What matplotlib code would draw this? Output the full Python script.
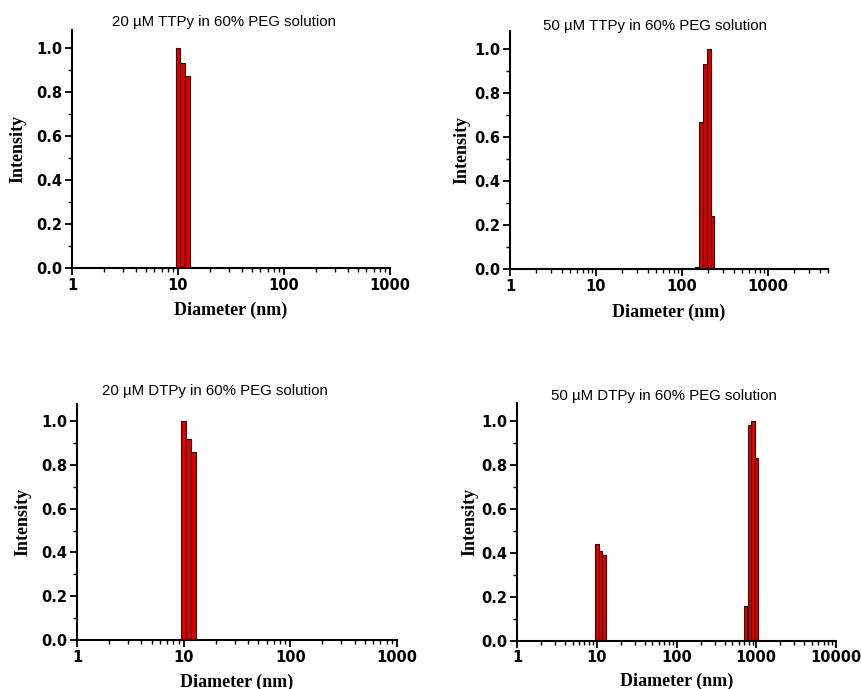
import numpy as np
import matplotlib
matplotlib.use("Agg")
import matplotlib.pyplot as plt
from matplotlib.ticker import LogLocator, FixedLocator, MultipleLocator, FuncFormatter

# ---- data (bin centre diameters in nm, normalised intensities) ----
titles = ["20 \u00b5M TTPy in 60% PEG solution",
          "50 \u00b5M TTPy in 60% PEG solution",
          "20 \u00b5M DTPy in 60% PEG solution",
          "50 \u00b5M DTPy in 60% PEG solution"]

d_ttpy20 = [10.0, 11.1, 12.3]
i_ttpy20 = [1.00, 0.93, 0.87]

d_ttpy50 = [151, 168, 187, 207, 227]
i_ttpy50 = [0.01, 0.67, 0.93, 1.00, 0.24]

d_dtpy20 = [10.0, 11.1, 12.3]
i_dtpy20 = [1.00, 0.92, 0.86]

d_dtpy50 = [10.0, 11.1, 12.3, 737, 820, 906, 1005]
i_dtpy50 = [0.44, 0.41, 0.39, 0.16, 0.98, 1.00, 0.83]

xmax = [1000, 5000, 1000, 10000]
xticks = [[1, 10, 100, 1000], [1, 10, 100, 1000], [1, 10, 100, 1000],
          [1, 10, 100, 1000, 10000]]

# ---- layout ----
W, H = 861, 689
fig = plt.figure(figsize=(W / 100, H / 100), dpi=100)

def rect(l, r, b, t):
    return [l / W, 1 - b / H, (r - l) / W, (b - t) / H]

rects = [rect(72, 390, 268, 30), rect(510, 828, 269, 31.4),
         rect(77, 397, 640, 403.5), rect(517, 836, 640.7, 403.4)]
title_x = [0.478, 0.456, 0.431, 0.461]
title_dy = [8, 5, 13, 7]
ylab_off = [54, 48, 54, 47]
xlab_off = [42, 43, 42, 41]

datasets = [(d_ttpy20, i_ttpy20), (d_ttpy50, i_ttpy50),
            (d_dtpy20, i_dtpy20), (d_dtpy50, i_dtpy50)]

lab_font = dict(family="Liberation Serif", weight="bold", size=13)
logw = 0.045  # bin width in log10 units

for k, (d, inten) in enumerate(datasets):
    ax = fig.add_axes(rects[k])
    d = np.asarray(d, float)
    left = d / 10 ** (logw / 2)
    right = d * 10 ** (logw / 2)
    ax.bar(left, inten, width=right - left, align="edge",
           color="#dc0000", edgecolor="#3a0000", linewidth=0.8)
    ax.set_xscale("log")
    ax.set_xlim(1, xmax[k])
    ax.set_ylim(0, 1.08)
    for s in ["top", "right"]:
        ax.spines[s].set_visible(False)
    for s in ["left", "bottom"]:
        ax.spines[s].set_linewidth(1.5)
    ax.xaxis.set_major_locator(FixedLocator(xticks[k]))
    ax.xaxis.set_major_formatter(FuncFormatter(lambda v, p: f"{int(round(v))}"))
    ax.xaxis.set_minor_locator(LogLocator(base=10, subs=np.arange(2, 10)))
    ax.xaxis.set_minor_formatter(FuncFormatter(lambda v, p: ""))
    ax.yaxis.set_major_locator(MultipleLocator(0.2))
    ax.yaxis.set_minor_locator(MultipleLocator(0.1))
    ax.yaxis.set_major_formatter(FuncFormatter(lambda v, p: f"{v:.1f}"))
    ax.tick_params(which="major", direction="out", length=5, width=1.3, pad=2)
    ax.tick_params(which="minor", direction="out", length=3, width=1.0)
    for lab in ax.get_xticklabels() + ax.get_yticklabels():
        lab.set_fontfamily("DejaVu Sans")
        lab.set_fontweight("bold")
        lab.set_fontsize(10.5)
    ax.set_xlabel("Diameter (nm)", **lab_font)
    ax.set_ylabel("Intensity", **lab_font)
    hpx = rects[k][3] * H
    wpx = rects[k][2] * W
    ax.yaxis.set_label_coords(-ylab_off[k] / wpx, 0.5)
    ax.xaxis.set_label_coords(0.5, -xlab_off[k] / hpx)
    ax.xaxis.label.set_va("center")
    ax.yaxis.label.set_va("center")
    ax.text(title_x[k], 1 + title_dy[k] / hpx, titles[k], transform=ax.transAxes,
            ha="center", va="center", family="Liberation Sans", fontsize=10.8)

fig.savefig("out.png", dpi=100)
